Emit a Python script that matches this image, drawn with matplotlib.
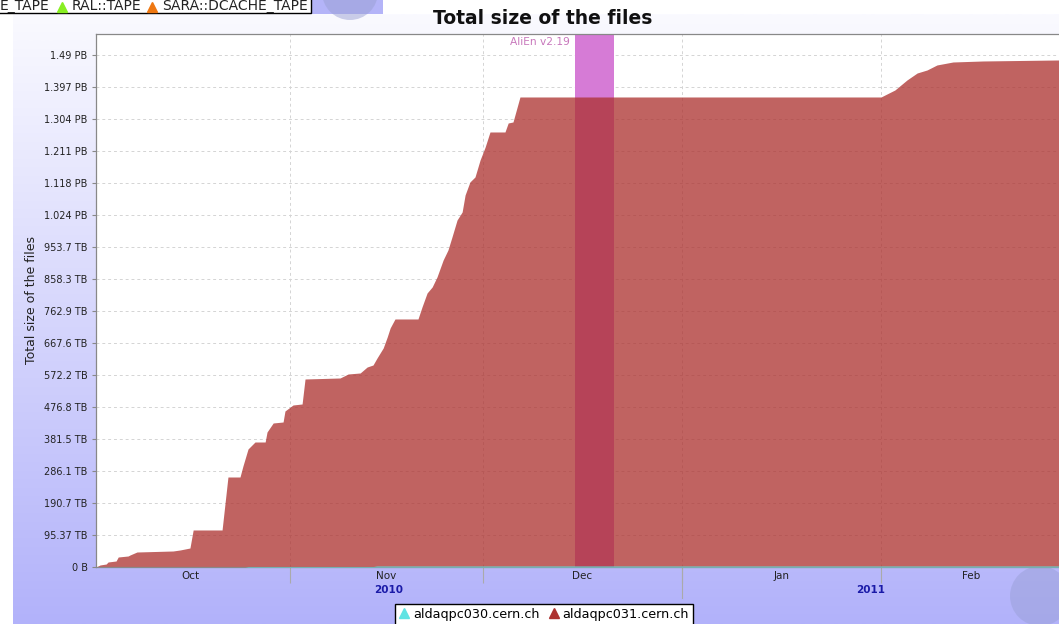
import matplotlib
matplotlib.use("Agg")
import matplotlib.pyplot as plt
import matplotlib.dates as mdates
from matplotlib.lines import Line2D
from matplotlib.patches import Rectangle, Circle
from matplotlib.ticker import FixedLocator, FixedFormatter
from matplotlib.transforms import blended_transform_factory
import numpy as np
import pandas as pd

# aldaqpc031.cern.ch: cumulative size in TB
DATES_031 = [
    "2010-10-01 19:00", "2010-10-02 10:00", "2010-10-03 09:00", "2010-10-03 16:00",
    "2010-10-04 22:00", "2010-10-05 06:00", "2010-10-06 19:00", "2010-10-07 02:00",
    "2010-10-08 04:00", "2010-10-13 19:00", "2010-10-14 21:00", "2010-10-16 10:00",
    "2010-10-16 22:00", "2010-10-21 10:00", "2010-10-22 08:00", "2010-10-24 05:00",
    "2010-10-24 16:00", "2010-10-25 11:00", "2010-10-26 13:00", "2010-10-28 03:00",
    "2010-10-28 10:00", "2010-10-29 09:00", "2010-10-30 22:00", "2010-10-31 05:00",
    "2010-11-01 11:00", "2010-11-02 21:00", "2010-11-03 08:00", "2010-11-08 19:00",
    "2010-11-10 01:00", "2010-11-11 22:00", "2010-11-13 00:00", "2010-11-13 22:00",
    "2010-11-14 13:00", "2010-11-15 12:00", "2010-11-16 03:00", "2010-11-16 14:00",
    "2010-11-17 08:00", "2010-11-20 22:00", "2010-11-21 13:00", "2010-11-22 08:00",
    "2010-11-23 03:00", "2010-11-23 21:00", "2010-11-24 20:00", "2010-11-25 14:00",
    "2010-11-26 05:00", "2010-11-27 00:00", "2010-11-27 19:00", "2010-11-28 06:00",
    "2010-11-29 00:00", "2010-11-29 19:00", "2010-11-30 14:00", "2010-12-01 09:00",
    "2010-12-02 03:00", "2010-12-04 11:00", "2010-12-04 23:00", "2010-12-05 17:00",
    "2010-12-06 19:00", "2011-02-01 00:00", "2011-02-03 04:00", "2011-02-05 01:00",
    "2011-02-06 15:00", "2011-02-08 04:00", "2011-02-09 17:00", "2011-02-12 05:00",
    "2011-02-16 21:00", "2011-02-28 17:00",
]
SIZE_031_TB = [
    0.0, 6.0, 8.9, 14.9, 17.9, 29.8, 32.8, 35.8,
    44.7, 47.7, 50.7, 56.6, 110.3, 110.3, 268.2, 268.2,
    301.0, 351.7, 372.5, 372.5, 402.3, 429.2, 432.1, 464.9,
    482.8, 485.8, 560.3, 563.3, 575.2, 578.2, 596.0, 602.0,
    622.9, 652.7, 685.4, 712.3, 739.1, 739.1, 774.9, 816.6,
    834.5, 864.3, 914.9, 944.7, 983.5, 1034.1, 1058.0, 1108.6,
    1147.4, 1162.3, 1212.9, 1251.7, 1296.4, 1296.4, 1323.2, 1326.2,
    1400.7, 1400.7, 1421.6, 1451.4, 1472.2, 1481.2, 1496.1, 1505.0,
    1508.0, 1511.0,
]

# aldaqpc030.cern.ch: tiny contribution along the bottom
DATES_030 = ["2010-10-01 19:00", "2010-10-25 00:00", "2010-10-25 12:00",
             "2010-11-14 00:00", "2010-11-14 12:00", "2011-02-28 17:00"]
SIZE_030_TB = [0.0, 0.0, 1.5, 1.5, 3.0, 3.0]

SERIES_NAMES = ["aldaqpc030.cern.ch", "aldaqpc031.cern.ch"]
SERIES_COLORS = ["#5fe3e3", "#ad3230"]

BAND = ("2010-12-15 09:00", "2010-12-21 10:00")
BAND_LABEL = "AliEn v2.19"

X_RANGE = ("2010-10-01 19:00", "2011-02-28 17:00")
MONTH_STARTS = ["2010-10-01", "2010-11-01", "2010-12-01", "2011-01-01",
                "2011-02-01", "2011-03-01"]
MONTH_LABELS = ["Oct", "Nov", "Dec", "Jan", "Feb"]
YEAR_START = "2011-01-01"

TICK_STEP_TB = 95.367
Y_TICK_LABELS = ["0 B", "95.37 TB", "190.7 TB", "286.1 TB", "381.5 TB", "476.8 TB",
                 "572.2 TB", "667.6 TB", "762.9 TB", "858.3 TB", "953.7 TB",
                 "1.024 PB", "1.118 PB", "1.211 PB", "1.304 PB", "1.397 PB", "1.49 PB"]
Y_MAX_TB = 1588.4

W, H = 1059, 624


def _draw_background(fig):
    bg = fig.add_axes([0, 0, 1, 1], zorder=-10)
    bg.set_xlim(0, W)
    bg.set_ylim(H, 0)
    bg.axis("off")
    top = np.array([250, 250, 255]) / 255.0
    bottom = np.array([178, 178, 250]) / 255.0
    t = np.linspace(0, 1, 256)[:, None, None]
    grad = top + (bottom - top) * t
    bg.imshow(grad, extent=(13, W, H, 14), aspect="auto", interpolation="bilinear")

    # bits of the neighbouring chart's legend in the top-left corner
    bg.add_patch(Rectangle((311, 0), 72, 14, facecolor="#b4b4f8", edgecolor="none"))
    bg.add_patch(Circle((350, -8), 28, facecolor="#9aa0d4", edgecolor="none", alpha=0.5))
    bg.add_patch(Rectangle((-2, -2), 313, 15, facecolor="white", edgecolor="black", lw=1.0))
    bg.text(0, 6, "E_TAPE", fontsize=10, va="center", ha="left", color="#222222")
    bg.plot([62], [7], marker="^", ms=7, color="#88ee22", ls="none")
    bg.text(72, 6, "RAL::TAPE", fontsize=10, va="center", ha="left", color="#222222")
    bg.plot([152], [7], marker="^", ms=7, color="#ee7711", ls="none")
    bg.text(162, 6, "SARA::DCACHE_TAPE", fontsize=10, va="center", ha="left", color="#222222")

    # globe in the bottom-right corner
    bg.add_patch(Circle((1040, 596), 30, facecolor="#9aa0d8", edgecolor="none", alpha=0.5))
    return bg


def main():
    fig = plt.figure(figsize=(W / 100, H / 100), dpi=100)
    fig.patch.set_facecolor("white")
    _draw_background(fig)

    ax = fig.add_axes([96 / W, 1 - 567 / H, 963 / W, 533 / H])
    ax.set_facecolor("white")

    d031 = pd.to_datetime(DATES_031)
    d030 = pd.to_datetime(DATES_030)
    band = mdates.date2num(pd.to_datetime(list(BAND)))
    xr = mdates.date2num(pd.to_datetime(list(X_RANGE)))
    months = mdates.date2num(pd.to_datetime(MONTH_STARTS))
    jan1 = mdates.date2num(pd.Timestamp(YEAR_START))

    ax.axvspan(band[0], band[1], color="#d67bd6", lw=0, zorder=1)
    ax.fill_between(d031, 0, SIZE_031_TB, color=SERIES_COLORS[1], alpha=0.76, lw=0, zorder=2)
    ax.fill_between(d030, 0, SIZE_030_TB, color=SERIES_COLORS[0], alpha=0.9, lw=0, zorder=3)

    ax.set_xlim(xr[0], xr[1])
    ax.set_ylim(0, Y_MAX_TB)

    ax.set_yticks([i * TICK_STEP_TB for i in range(len(Y_TICK_LABELS))])
    ax.set_yticklabels(Y_TICK_LABELS)
    ax.tick_params(axis="y", direction="out", length=3, width=0.8, color="#888888",
                   labelsize=7, pad=3, labelcolor="#222222")

    # month separators as major ticks, month names centred in each month
    ax.xaxis.set_major_locator(FixedLocator(months))
    ax.xaxis.set_major_formatter(plt.NullFormatter())
    mids = (months[:-1] + months[1:]) / 2
    ax.xaxis.set_minor_locator(FixedLocator(mids))
    ax.xaxis.set_minor_formatter(FixedFormatter(MONTH_LABELS))
    ax.tick_params(axis="x", which="major", direction="out", length=11.5, width=0.8,
                   color="#aaaaaa")
    ax.tick_params(axis="x", which="minor", length=0, labelsize=7.5, pad=3,
                   labelcolor="#222222")

    ax.grid(True, which="major", color="#d4d4d4", ls=(0, (3, 3)), lw=0.7)
    ax.set_axisbelow(True)

    for side in ("left", "top", "bottom"):
        ax.spines[side].set_color("#888888")
        ax.spines[side].set_linewidth(0.9)
    ax.spines["right"].set_visible(False)

    trans = blended_transform_factory(ax.transData, ax.transAxes)
    ax.plot([jan1, jan1], [0, -31 / 533], transform=trans, clip_on=False,
            color="#aaaaaa", lw=0.8)
    mid_2010 = (xr[0] + jan1) / 2
    mid_2011 = (jan1 + xr[1]) / 2
    for x, year in ((mid_2010, "2010"), (mid_2011, "2011")):
        ax.text(x, -23 / 533, year, transform=trans, ha="center", va="center",
                fontsize=7.5, fontweight="bold", color="#1a1aa8")

    ax.annotate(BAND_LABEL, xy=(band[0], 1), xycoords=trans, xytext=(-5, -3),
                textcoords="offset pixels", ha="right", va="top", fontsize=7.7,
                color="#c878bc")

    ax.set_ylabel("Total size of the files", fontsize=9, color="#222222")
    ax.yaxis.set_label_coords(-58 / 963, 0.5)

    fig.text(543 / W, 1 - 18 / H, "Total size of the files", ha="center", va="center",
             fontsize=13.5, fontweight="bold", color="#111111")

    handles = [Line2D([], [], marker="^", ms=7, ls="none", color=c) for c in SERIES_COLORS]
    leg = ax.legend(handles, SERIES_NAMES, loc="upper center",
                    bbox_to_anchor=(544 / W, 1 - 604 / H), bbox_transform=fig.transFigure,
                    ncol=2, fontsize=9.2, frameon=True, fancybox=False, edgecolor="black",
                    framealpha=1.0, handlelength=0.8, handletextpad=0.3,
                    columnspacing=0.7, borderpad=0.3, borderaxespad=0)
    leg.get_frame().set_linewidth(1.0)

    fig.savefig("out.png", dpi=100)


if __name__ == "__main__":
    main()
